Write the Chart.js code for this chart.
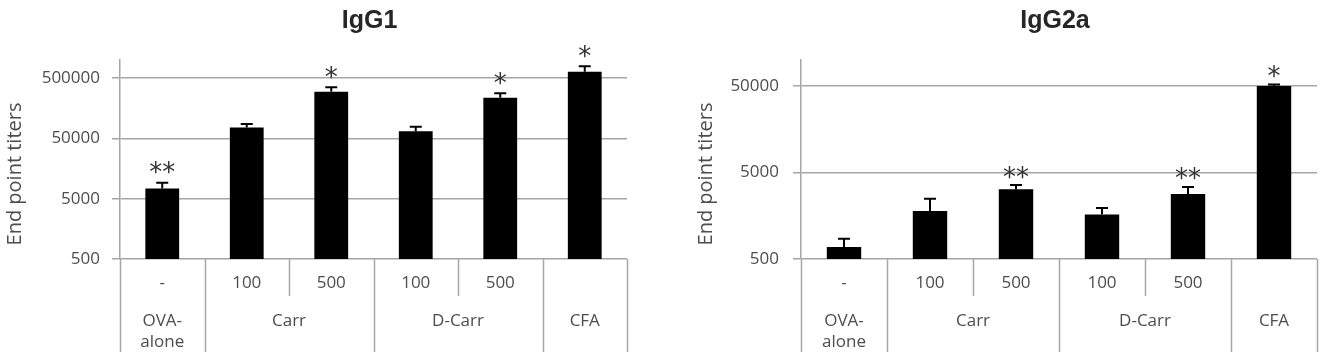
<!DOCTYPE html>
<html>
<head>
<meta charset="utf-8">
<script src="https://cdn.jsdelivr.net/npm/chart.js@4.4.1/dist/chart.umd.min.js"></script>
<style>
  html, body { margin: 0; padding: 0; background: #fff; }
  body { width: 1330px; height: 352px; position: relative; overflow: hidden; }
  .wrap { position: absolute; top: 0; height: 352px; }
  #wrapLeft { left: 0; width: 660px; }
  #wrapRight { left: 660px; width: 670px; }
</style>
</head>
<body>
<div class="wrap" id="wrapLeft"><canvas id="igg1Chart"></canvas></div>
<div class="wrap" id="wrapRight"><canvas id="igg2aChart"></canvas></div>
<script>
// categories (x) and grouping table under the axis
const doseLabels = ['-', '100', '500', '100', '500', ''];
const groupLabels = [['OVA-', 'alone'], ['Carr'], ['D-Carr'], ['CFA']];
const groupSpans = [1, 2, 2, 1];

// y tick labels
const igg1Ticks = [500, 5000, 50000, 500000];
const igg2aTicks = [500, 5000, 50000];

// IgG1 series (mean end point titers, upper error)
const igg1Means = [7400, 76000, 298000, 66000, 237000, 640000];
const igg1Errors = [1800, 11000, 56000, 12000, 43000, 150000];
const igg1Stars = ['**', '', '*', '', '*', '*'];

// IgG2a series
const igg2aMeans = [690, 1800, 3200, 1630, 2830, 50000];
const igg2aErrors = [170, 680, 380, 320, 580, 2000];
const igg2aStars = ['', '', '**', '', '**', '*'];

const GRID = '#a6a6a6';
const TEXT = '#4d4d4d';
const FONT = '"Open Sans", "DejaVu Sans", sans-serif';

const annotations = {
  id: 'annotations',
  afterDatasetsDraw(chart) {
    const cfg = chart.options.plugins.annotations;
    const { ctx, chartArea } = chart;
    const x = chart.scales.x;
    const y = chart.scales.y;
    const bars = chart.getDatasetMeta(0).data;
    const H = chart.height;

    ctx.save();
    // error bars
    ctx.strokeStyle = '#000';
    ctx.lineWidth = 2;
    bars.forEach((bar, i) => {
      const top = y.getPixelForValue(cfg.means[i] + cfg.errors[i]);
      ctx.beginPath();
      ctx.moveTo(bar.x, bar.y);
      ctx.lineTo(bar.x, top);
      ctx.moveTo(bar.x - 6, top);
      ctx.lineTo(bar.x + 6, top);
      ctx.stroke();
    });

    // significance stars
    ctx.fillStyle = '#333';
    ctx.font = '26px "DejaVu Sans", sans-serif';
    ctx.textAlign = 'center';
    ctx.textBaseline = 'alphabetic';
    bars.forEach((bar, i) => {
      const s = cfg.stars[i];
      if (!s) return;
      const top = y.getPixelForValue(cfg.means[i] + cfg.errors[i]);
      const m = ctx.measureText(s);
      const mid = (m.actualBoundingBoxAscent - m.actualBoundingBoxDescent) / 2;
      ctx.fillText(s, bar.x, top - cfg.starGap + mid);
    });

    // table under the axis
    const step = x.getPixelForValue(1) - x.getPixelForValue(0);
    const edge = (k) => x.getPixelForValue(0) - step / 2 + k * step;
    const groupEdges = [0];
    groupSpans.forEach((n) => groupEdges.push(groupEdges[groupEdges.length - 1] + n));

    ctx.strokeStyle = GRID;
    ctx.lineWidth = 1.5;
    for (let k = 0; k <= doseLabels.length; k++) {
      const px = Math.round(edge(k)) + 0.5;
      const full = groupEdges.includes(k);
      ctx.beginPath();
      ctx.moveTo(px, chartArea.bottom);
      ctx.lineTo(px, full ? H : chartArea.bottom + 37);
      ctx.stroke();
    }

    ctx.fillStyle = TEXT;
    ctx.font = '17px ' + FONT;
    ctx.textBaseline = 'middle';
    doseLabels.forEach((lab, i) => {
      ctx.fillText(lab, x.getPixelForValue(i), chartArea.bottom + 24);
    });
    groupLabels.forEach((lines, g) => {
      const cx = (edge(groupEdges[g]) + edge(groupEdges[g + 1])) / 2;
      lines.forEach((ln, j) => {
        ctx.fillText(ln, cx, chartArea.bottom + 62 + j * 21);
      });
    });

    // chart title
    ctx.fillStyle = '#262626';
    ctx.font = 'bold 25px "Liberation Sans", Arial, sans-serif';
    ctx.fillText(cfg.title, (chartArea.left + chartArea.right) / 2 - 4, 21);

    // y axis title
    ctx.fillStyle = TEXT;
    ctx.font = '20px ' + FONT;
    ctx.translate(cfg.yTitleX, 174);
    ctx.rotate(-Math.PI / 2);
    ctx.fillText('End point titers', 0, 0);
    ctx.restore();
  }
};

function makeChart(canvasId, opts) {
  return new Chart(document.getElementById(canvasId), {
    type: 'bar',
    data: {
      labels: doseLabels,
      datasets: [{
        data: opts.means,
        backgroundColor: '#000',
        barPercentage: 0.4,
        categoryPercentage: 1
      }]
    },
    options: {
      responsive: true,
      maintainAspectRatio: false,
      animation: false,
      layout: { padding: { left: 0, right: opts.padRight, top: 60, bottom: 93 } },
      plugins: {
        legend: { display: false },
        tooltip: { enabled: false },
        annotations: {
          title: opts.title,
          means: opts.means,
          errors: opts.errors,
          stars: opts.stars,
          starGap: opts.starGap,
          yTitleX: opts.yTitleX
        }
      },
      scales: {
        x: { display: false },
        y: {
          type: 'logarithmic',
          min: 500,
          max: opts.max,
          afterFit: (scale) => { scale.width = opts.axisWidth; },
          afterBuildTicks: (scale) => { scale.ticks = opts.ticks.map((v) => ({ value: v })); },
          ticks: {
            color: TEXT,
            font: { family: FONT, size: 17 },
            padding: opts.tickPad,
            callback: (v) => String(v)
          },
          grid: { color: GRID, lineWidth: 1.5, tickLength: 8 },
          border: { color: GRID, width: 1.5 }
        }
      }
    },
    plugins: [annotations]
  });
}

makeChart('igg1Chart', {
  title: 'IgG1', means: igg1Means, errors: igg1Errors, stars: igg1Stars,
  ticks: igg1Ticks, max: 1000000, axisWidth: 120, padRight: 33, tickPad: 12,
  starGap: 15, yTitleX: 15
});
makeChart('igg2aChart', {
  title: 'IgG2a', means: igg2aMeans, errors: igg2aErrors, stars: igg2aStars,
  ticks: igg2aTicks, max: 100000, axisWidth: 141, padRight: 13, tickPad: 14,
  starGap: 13, yTitleX: 46
});
</script>
</body>
</html>
